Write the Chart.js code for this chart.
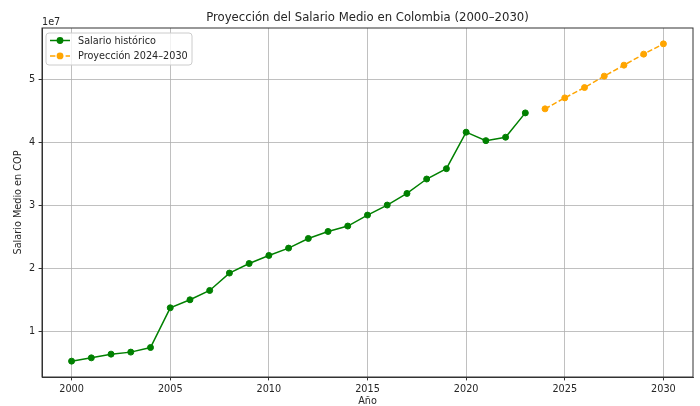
<!DOCTYPE html>
<html>
<head>
<meta charset="utf-8">
<script src="https://cdn.jsdelivr.net/npm/chart.js@4"></script>
<style>
html,body{margin:0;padding:0;background:#fff;}
#wrap{width:700px;height:406px;position:relative;}
</style>
</head>
<body>
<div id="wrap"><canvas id="c" width="700" height="406"></canvas></div>
<script>
// ---- data ----
const histYears = [2000,2001,2002,2003,2004,2005,2006,2007,2008,2009,2010,2011,2012,2013,2014,2015,2016,2017,2018,2019,2020,2021,2022,2023];
const histValues = [5270000,5790000,6380000,6700000,7430000,13730000,15000000,16480000,19240000,20760000,22030000,23200000,24730000,25840000,26700000,28440000,30030000,31870000,34160000,35800000,41590000,40250000,40790000,44650000];
const projYears = [2024,2025,2026,2027,2028,2029,2030];
const projValues = [45290000,47030000,48670000,50480000,52220000,53970000,55600000];
const xTickValues = [2000,2005,2010,2015,2020,2025,2030];
const yTickValues = [10000000,20000000,30000000,40000000,50000000];
const titleText = 'Proyección del Salario Medio en Colombia (2000–2030)';
const xLabel = 'Año';
const yLabel = 'Salario Medio en COP';
const histLabel = 'Salario histórico';
const projLabel = 'Proyección 2024–2030';
const offsetText = '1e7';

const FONT = '"DejaVu Sans", sans-serif';
const TXT = '#262626';

const allX = histYears.concat(projYears);
const allY = histValues.concat(projValues);
const xMin = Math.min(...allX), xMax = Math.max(...allX);
const yMinD = Math.min(...allY), yMaxD = Math.max(...allY);
const xPad = (xMax - xMin) * 0.05, yPad = (yMaxD - yMinD) * 0.05;

const toPts = (xs, ys) => xs.map((x, i) => ({x: x, y: ys[i]}));

const framePlugin = {
  id: 'frame',
  afterDraw(chart) {
    const {ctx, chartArea: a} = chart;
    ctx.save();
    ctx.strokeStyle = '#333';
    ctx.lineWidth = 1;
    ctx.strokeRect(a.left, a.top, a.right - a.left, a.bottom - a.top);
    // offset text
    ctx.fillStyle = TXT;
    ctx.font = '9.7px ' + FONT;
    ctx.textAlign = 'left';
    ctx.textBaseline = 'alphabetic';
    ctx.fillText(offsetText, a.left, a.top - 3);
    // legend
    const bx = a.left + 4, by = a.top + 5, bw = 146, bh = 32, r = 3;
    ctx.beginPath();
    ctx.moveTo(bx + r, by);
    ctx.lineTo(bx + bw - r, by); ctx.quadraticCurveTo(bx + bw, by, bx + bw, by + r);
    ctx.lineTo(bx + bw, by + bh - r); ctx.quadraticCurveTo(bx + bw, by + bh, bx + bw - r, by + bh);
    ctx.lineTo(bx + r, by + bh); ctx.quadraticCurveTo(bx, by + bh, bx, by + bh - r);
    ctx.lineTo(bx, by + r); ctx.quadraticCurveTo(bx, by, bx + r, by);
    ctx.closePath();
    ctx.fillStyle = 'rgba(255,255,255,0.8)';
    ctx.fill();
    ctx.strokeStyle = '#cccccc';
    ctx.lineWidth = 1;
    ctx.stroke();
    chart.data.datasets.forEach((ds, i) => {
      const y = by + 7.5 + i * 15.4;
      ctx.strokeStyle = ds.borderColor;
      ctx.lineWidth = 1.5;
      ctx.setLineDash(ds.borderDash || []);
      ctx.beginPath(); ctx.moveTo(bx + 4, y); ctx.lineTo(bx + 24, y); ctx.stroke();
      ctx.setLineDash([]);
      ctx.fillStyle = ds.borderColor;
      ctx.beginPath(); ctx.arc(bx + 14, y, 3.4, 0, Math.PI * 2); ctx.fill();
      ctx.fillStyle = TXT;
      ctx.font = '9.7px ' + FONT;
      ctx.textBaseline = 'middle';
      ctx.fillText(ds.label, bx + 32, y + 0.5);
    });
    ctx.restore();
  }
};

new Chart(document.getElementById('c'), {
  type: 'line',
  data: {
    datasets: [
      {label: histLabel, data: toPts(histYears, histValues), borderColor: '#008000', backgroundColor: '#008000',
       borderWidth: 1.5, pointRadius: 3, pointBorderWidth: 1, pointBackgroundColor: '#008000', pointBorderColor: '#008000', tension: 0},
      {label: projLabel, data: toPts(projYears, projValues), borderColor: '#FFA500', backgroundColor: '#FFA500',
       borderWidth: 1.5, borderDash: [5.4, 2.4], pointRadius: 3, pointBorderWidth: 1, pointBackgroundColor: '#FFA500', pointBorderColor: '#FFA500', tension: 0}
    ]
  },
  plugins: [framePlugin],
  options: {
    responsive: false,
    animation: false,
    layout: {padding: {left: 0, right: 7, top: 0, bottom: 0}},
    plugins: {
      legend: {display: false},
      tooltip: {enabled: false},
      title: {display: true, text: titleText, fullSize: false, color: TXT,
        font: {family: FONT, size: 11.7, weight: 'normal', lineHeight: 1.2},
        padding: {top: 10.5, bottom: 3.46}}
    },
    scales: {
      x: {
        type: 'linear', min: xMin - xPad, max: xMax + xPad,
        afterBuildTicks(s) { s.ticks = xTickValues.map(v => ({value: v})); },
        afterFit(s) { s.height = 29; },
        ticks: {color: TXT, font: {family: FONT, size: 9.7}, padding: 3.4, maxRotation: 0, autoSkip: false,
          callback: v => String(v)},
        grid: {color: '#b0b0b0', lineWidth: 0.8, tickLength: 3.4, tickColor: '#333', tickWidth: 1},
        border: {display: true, color: '#333', width: 1},
        title: {display: true, text: xLabel, color: TXT, font: {family: FONT, size: 9.7, lineHeight: 1.2}, padding: {top: 0, bottom: -1.2}}
      },
      y: {
        type: 'linear', min: yMinD - yPad, max: yMaxD + yPad,
        afterBuildTicks(s) { s.ticks = yTickValues.map(v => ({value: v})); },
        afterFit(s) { s.width = 42; },
        ticks: {color: TXT, font: {family: FONT, size: 9.7}, padding: 3.4, autoSkip: false,
          callback: v => String(Math.round(v / 1e7))},
        grid: {color: '#b0b0b0', lineWidth: 0.8, tickLength: 3.4, tickColor: '#333', tickWidth: 1},
        border: {display: true, color: '#333', width: 1},
        title: {display: true, text: yLabel, color: TXT, font: {family: FONT, size: 9.7, lineHeight: 1.2}, padding: {top: 13, bottom: 0}}
      }
    }
  }
});
</script>
</body>
</html>
